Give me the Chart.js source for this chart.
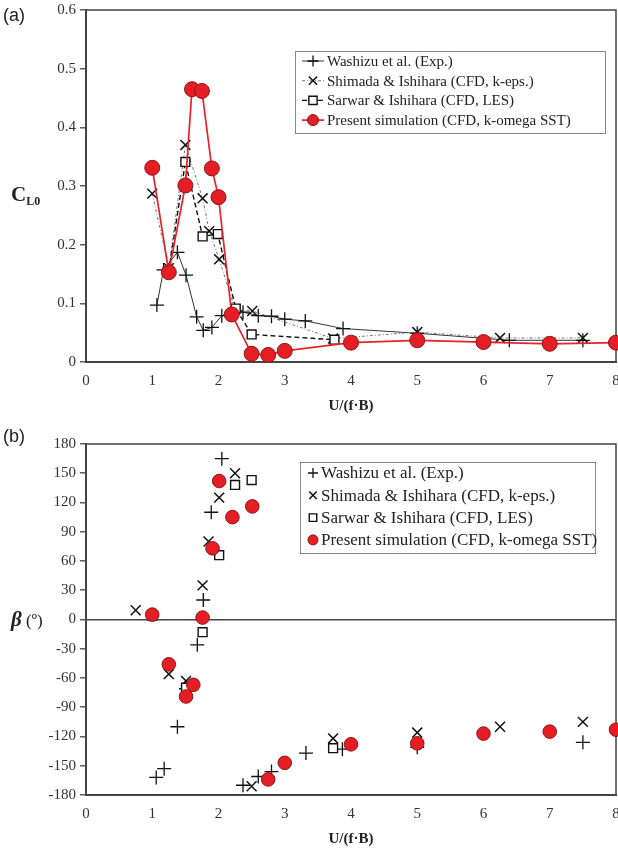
<!DOCTYPE html>
<html>
<head>
<meta charset="utf-8">
<script src="https://cdn.jsdelivr.net/npm/chart.js@4.4.1/dist/chart.umd.min.js"></script>
<style>
  html, body { margin: 0; padding: 0; background: #fff; }
  #wrap { position: relative; width: 618px; height: 850px; }
  canvas { position: absolute; left: 0; }
  #a { top: 0; }
  #b { top: 425px; }
</style>
</head>
<body>
<div id="wrap">
  <canvas id="a" width="618" height="425"></canvas>
  <canvas id="b" width="618" height="425"></canvas>
</div>
<script>
// ---- données (a) : coefficient de portance C_L0 ----
const washizuClX = [1.07, 1.17, 1.38, 1.51, 1.67, 1.77, 1.90, 2.05, 2.26, 2.37, 2.60, 2.80, 3.00, 3.31, 3.88, 5.00, 6.39, 7.50];
const washizuClY = [0.097, 0.157, 0.187, 0.148, 0.077, 0.054, 0.059, 0.079, 0.087, 0.085, 0.079, 0.078, 0.073, 0.070, 0.057, 0.049, 0.037, 0.037];

const shimadaClX = [1.00, 1.25, 1.50, 1.76, 1.86, 2.01, 2.25, 2.51, 3.73, 5.00, 6.25, 7.50];
const shimadaClY = [0.287, 0.160, 0.370, 0.279, 0.223, 0.175, 0.090, 0.087, 0.040, 0.051, 0.041, 0.041];

const sarwarClX = [1.25, 1.50, 1.76, 1.99, 2.26, 2.50, 3.75];
const sarwarClY = [0.155, 0.341, 0.214, 0.218, 0.091, 0.047, 0.038];

const presentClX = [1.00, 1.25, 1.50, 1.60, 1.75, 1.90, 2.00, 2.20, 2.50, 2.75, 3.00, 4.00, 5.00, 6.00, 7.00, 8.00];
const presentClY = [0.331, 0.153, 0.301, 0.465, 0.462, 0.330, 0.281, 0.081, 0.014, 0.012, 0.019, 0.033, 0.037, 0.034, 0.031, 0.033];

// ---- données (b) : déphasage beta (deg) ----
const washizuBetaX = [1.06, 1.18, 1.38, 1.51, 1.68, 1.77, 1.89, 2.05, 2.37, 2.60, 2.80, 3.32, 3.87, 5.00, 7.50];
const washizuBetaY = [-162, -153, -110, -71, -26, 20, 110, 165, -170, -161, -156, -137, -133, -131, -126];

const shimadaBetaX = [0.75, 1.25, 1.51, 1.76, 1.85, 2.01, 2.25, 2.50, 3.73, 5.00, 6.25, 7.50];
const shimadaBetaY = [9.5, -56, -63, 35, 80, 125, 150, -171, -122, -116, -110, -105];

const sarwarBetaX = [1.00, 1.51, 1.76, 2.01, 2.25, 2.50, 3.73];
const sarwarBetaY = [4, -70, -13, 66, 138, 143, -132];

const presentBetaX = [1.00, 1.25, 1.51, 1.62, 1.76, 1.91, 2.01, 2.21, 2.51, 2.75, 3.00, 4.00, 5.00, 6.00, 7.00, 8.00];
const presentBetaY = [5, -46, -79, -67, 2, 73, 142, 105, 116, -164, -147, -128, -127, -117, -115, -113];

const labels = [
  "Washizu et al. (Exp.)",
  "Shimada & Ishihara (CFD, k-eps.)",
  "Sarwar & Ishihara (CFD, LES)",
  "Present simulation (CFD, k-omega SST)"
];

const xMin = 0, xMax = 8, xStep = 1;
const clMin = 0, clMax = 0.6, clStep = 0.1;
const betaMin = -180, betaMax = 180, betaStep = 30;

const pts = (xs, ys) => xs.map((x, i) => ({ x: x, y: ys[i] }));

const SERIF = '"Liberation Serif", "DejaVu Serif", serif';
const SANS = '"Liberation Sans", Arial, sans-serif';
const RED = "#e51d24";

// petit marqueur pour la légende
function drawMarker(ctx, ds, x, y, r) {
  ctx.save();
  ctx.lineWidth = ds.pointBorderWidth;
  ctx.strokeStyle = ds.pointBorderColor;
  ctx.fillStyle = ds.pointBackgroundColor;
  ctx.setLineDash([]);
  ctx.beginPath();
  if (ds.pointStyle === "cross") {
    ctx.moveTo(x - r, y); ctx.lineTo(x + r, y);
    ctx.moveTo(x, y - r); ctx.lineTo(x, y + r);
    ctx.stroke();
  } else if (ds.pointStyle === "crossRot") {
    const d = r * 0.75;
    ctx.moveTo(x - d, y - d); ctx.lineTo(x + d, y + d);
    ctx.moveTo(x - d, y + d); ctx.lineTo(x + d, y - d);
    ctx.stroke();
  } else if (ds.pointStyle === "rect") {
    const s = r * 0.75;
    ctx.rect(x - s, y - s, 2 * s, 2 * s);
    ctx.fill(); ctx.stroke();
  } else {
    ctx.arc(x, y, r, 0, Math.PI * 2);
    ctx.fill(); ctx.stroke();
  }
  ctx.restore();
}

function drawRuns(ctx, runs, x, y) {
  for (const r of runs) {
    ctx.font = r.f;
    ctx.fillText(r.t, x, y + (r.dy || 0));
    x += ctx.measureText(r.t).width;
  }
}

// cadre, titres et légende dessinés à la main
const decor = {
  id: "decor",
  beforeDatasetsDraw(chart, args, o) {
    const { ctx, chartArea: a } = chart;
    ctx.save();
    ctx.strokeStyle = "#444";
    ctx.lineWidth = 1.5;
    ctx.strokeRect(a.left, a.top, a.right - a.left, a.bottom - a.top);
    ctx.restore();
  },
  afterDraw(chart, args, o) {
    const ctx = chart.ctx;
    ctx.save();
    ctx.fillStyle = "#222";
    ctx.textBaseline = "alphabetic";
    ctx.textAlign = "left";

    // (a) / (b)
    ctx.font = "18px " + SANS;
    ctx.fillText(o.panel, 3, o.panelY);

    // titre axe y
    drawRuns(ctx, o.yTitle, o.yTitleX, o.yTitleY);

    // titre axe x
    ctx.font = "bold 15px " + SERIF;
    ctx.textAlign = "center";
    ctx.fillText("U/(f\u00B7B)", o.xTitleX, o.xTitleY);
    ctx.textAlign = "left";

    // légende
    const L = o.legend;
    ctx.fillStyle = "#fff";
    ctx.fillRect(L.x, L.y, L.w, L.h);
    ctx.strokeStyle = "#888";
    ctx.lineWidth = 1;
    ctx.strokeRect(L.x + 0.5, L.y + 0.5, L.w, L.h);
    ctx.font = L.font;
    ctx.textBaseline = "middle";
    chart.data.datasets.forEach((ds, i) => {
      const y = L.y + L.first + i * L.step;
      if (ds.showLine) {
        ctx.save();
        ctx.strokeStyle = ds.borderColor;
        ctx.lineWidth = ds.borderWidth;
        ctx.setLineDash(ds.borderDash || []);
        ctx.beginPath();
        ctx.moveTo(L.lineX1, y);
        ctx.lineTo(L.lineX2, y);
        ctx.stroke();
        ctx.restore();
      }
      drawMarker(ctx, ds, L.markX, y, L.markR);
      ctx.fillStyle = "#222";
      ctx.fillText(ds.label, L.textX, y + 1);
    });
    ctx.restore();
  }
};

function makeDatasets(data, withLines, big) {
  return [
    {
      label: labels[0],
      data: data[0],
      showLine: withLines,
      borderColor: "#333",
      borderWidth: 1,
      pointStyle: "cross",
      pointRadius: 7,
      pointBorderWidth: 1.3,
      pointBorderColor: "#111",
      pointBackgroundColor: "#111",
      order: 3,
      clip: false
    },
    {
      label: labels[1],
      data: data[1],
      showLine: withLines,
      borderColor: "#777",
      borderWidth: 1,
      borderDash: [3, 2, 1, 2],
      pointStyle: "crossRot",
      pointRadius: 7,
      pointBorderWidth: 1.5,
      pointBorderColor: "#111",
      pointBackgroundColor: "#111",
      order: 2,
      clip: false
    },
    {
      label: labels[2],
      data: data[2],
      showLine: withLines,
      borderColor: "#111",
      borderWidth: 1.4,
      borderDash: [5, 3],
      pointStyle: "rect",
      pointRadius: 6.3,
      pointBorderWidth: 1.4,
      pointBorderColor: "#111",
      pointBackgroundColor: "#fff",
      order: 1,
      clip: false
    },
    {
      label: labels[3],
      data: data[3],
      showLine: withLines,
      borderColor: "#e8222a",
      borderWidth: 1.7,
      pointStyle: "circle",
      pointRadius: big ? 7.5 : 6.8,
      pointBorderWidth: 1,
      pointBorderColor: "#8d1717",
      pointBackgroundColor: RED,
      order: 0,
      clip: false
    }
  ];
}

function makeScales(yMin, yMax, yStep, xHeight, zeroLine) {
  return {
    x: {
      type: "linear",
      min: xMin,
      max: xMax,
      ticks: { stepSize: xStep, color: "#333", font: { family: SERIF, size: 15 }, padding: 10 },
      grid: { display: true, drawOnChartArea: false, drawTicks: false },
      border: { color: "#444", width: 2 },
      afterFit(s) { s.height = xHeight; s.paddingLeft = 0; s.paddingRight = 0; }
    },
    y: {
      type: "linear",
      min: yMin,
      max: yMax,
      ticks: { stepSize: yStep, color: "#333", font: { family: SERIF, size: 15 }, padding: 4 },
      grid: {
        display: true,
        drawOnChartArea: zeroLine,
        color: (c) => (c.tick && c.tick.value === 0 ? "#444" : "rgba(0,0,0,0)"),
        lineWidth: 1.6,
        tickColor: "#444",
        tickLength: 6,
        tickWidth: 1.3
      },
      border: { color: "#444", width: 2 },
      afterFit(s) { s.width = 86; s.paddingTop = 0; s.paddingBottom = 0; }
    }
  };
}

let graphique = new Chart(document.getElementById("a"), {
  type: "scatter",
  data: {
    datasets: makeDatasets(
      [pts(washizuClX, washizuClY), pts(shimadaClX, shimadaClY), pts(sarwarClX, sarwarClY), pts(presentClX, presentClY)],
      true, true)
  },
  options: {
    responsive: false,
    animation: false,
    layout: { autoPadding: false, padding: { top: 10, right: 2, left: 0, bottom: 0 } },
    scales: makeScales(clMin, clMax, clStep, 63, false),
    plugins: {
      legend: { display: false },
      tooltip: { enabled: false },
      decor: {
        panel: "(a)",
        panelY: 21,
        yTitle: [
          { t: "C", f: "bold 21px " + SERIF },
          { t: "L0", f: "bold 12px " + SERIF, dy: 4 }
        ],
        yTitleX: 11,
        yTitleY: 201,
        xTitleX: 351,
        xTitleY: 410,
        legend: {
          x: 295, y: 51, w: 310, h: 82,
          first: 10, step: 19.7,
          lineX1: 302, lineX2: 324, markX: 313, markR: 5.5,
          textX: 327, font: "15px " + SERIF
        }
      }
    }
  },
  plugins: [decor]
});

let graphique1 = new Chart(document.getElementById("b"), {
  type: "scatter",
  data: {
    datasets: makeDatasets(
      [pts(washizuBetaX, washizuBetaY), pts(shimadaBetaX, shimadaBetaY), pts(sarwarBetaX, sarwarBetaY), pts(presentBetaX, presentBetaY)],
      false, false)
  },
  options: {
    responsive: false,
    animation: false,
    layout: { autoPadding: false, padding: { top: 19, right: 2, left: 0, bottom: 0 } },
    scales: makeScales(betaMin, betaMax, betaStep, 55, true),
    plugins: {
      legend: { display: false },
      tooltip: { enabled: false },
      decor: {
        panel: "(b)",
        panelY: 17,
        yTitle: [
          { t: "\u03B2", f: "bold italic 21px " + SERIF },
          { t: " (", f: "17px " + SERIF },
          { t: "\u00BA", f: "17px " + SERIF },
          { t: ")", f: "17px " + SERIF }
        ],
        yTitleX: 11,
        yTitleY: 201,
        xTitleX: 351,
        xTitleY: 418,
        legend: {
          x: 300, y: 37, w: 295, h: 91,
          first: 11, step: 22.3,
          lineX1: 0, lineX2: 0, markX: 313, markR: 5,
          textX: 321, font: "17px " + SERIF
        }
      }
    }
  },
  plugins: [decor]
});
</script>
</body>
</html>
